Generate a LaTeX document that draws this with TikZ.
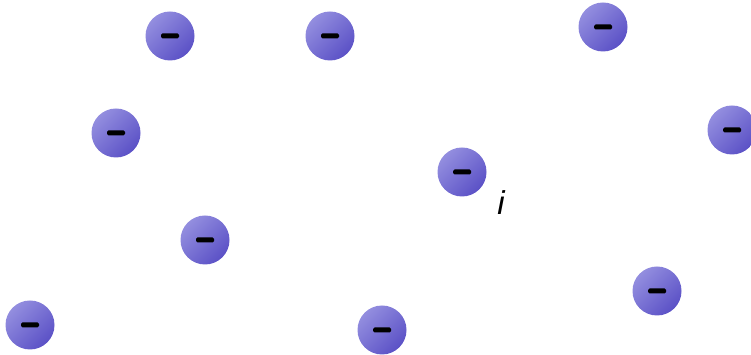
\documentclass[tikz,border=0pt]{standalone}
\usepackage{fontspec}
\setmainfont{Liberation Sans}
\definecolor{ballhi}{HTML}{938EDF}
\definecolor{balllo}{HTML}{5B51C6}
\tikzset{
  ion/.style={circle, minimum size=49pt, inner sep=0pt, top color=ballhi, bottom color=balllo, shading angle=45,
    path picture={\fill[black, rounded corners=1.5pt] ([xshift=-9pt,yshift=-2.5pt]path picture bounding box.center) rectangle ([xshift=9pt,yshift=2.5pt]path picture bounding box.center);}},
}
\begin{document}
\begin{tikzpicture}[x=1pt,y=1pt]
\useasboundingbox (0,0) rectangle (751,355);
\clip (0,0) rectangle (751,355);
\node[ion] (n1) at (170,319) {};
\node[ion] (n2) at (330,319) {};
\node[ion] (n3) at (603,328) {};
\node[ion] (n4) at (116,222) {};
\node[ion] (n5) at (732,225) {};
\node[ion] (n6) at (462,183) {};
\node[ion] (n7) at (205,115) {};
\node[ion] (n8) at (30,30) {};
\node[ion] (n9) at (382,25) {};
\node[ion] (n10) at (657,64) {};
\node[font=\itshape\fontsize{33}{33}\selectfont, inner sep=0pt] (lbl) at (501,152) {i};
\end{tikzpicture}
\end{document}
